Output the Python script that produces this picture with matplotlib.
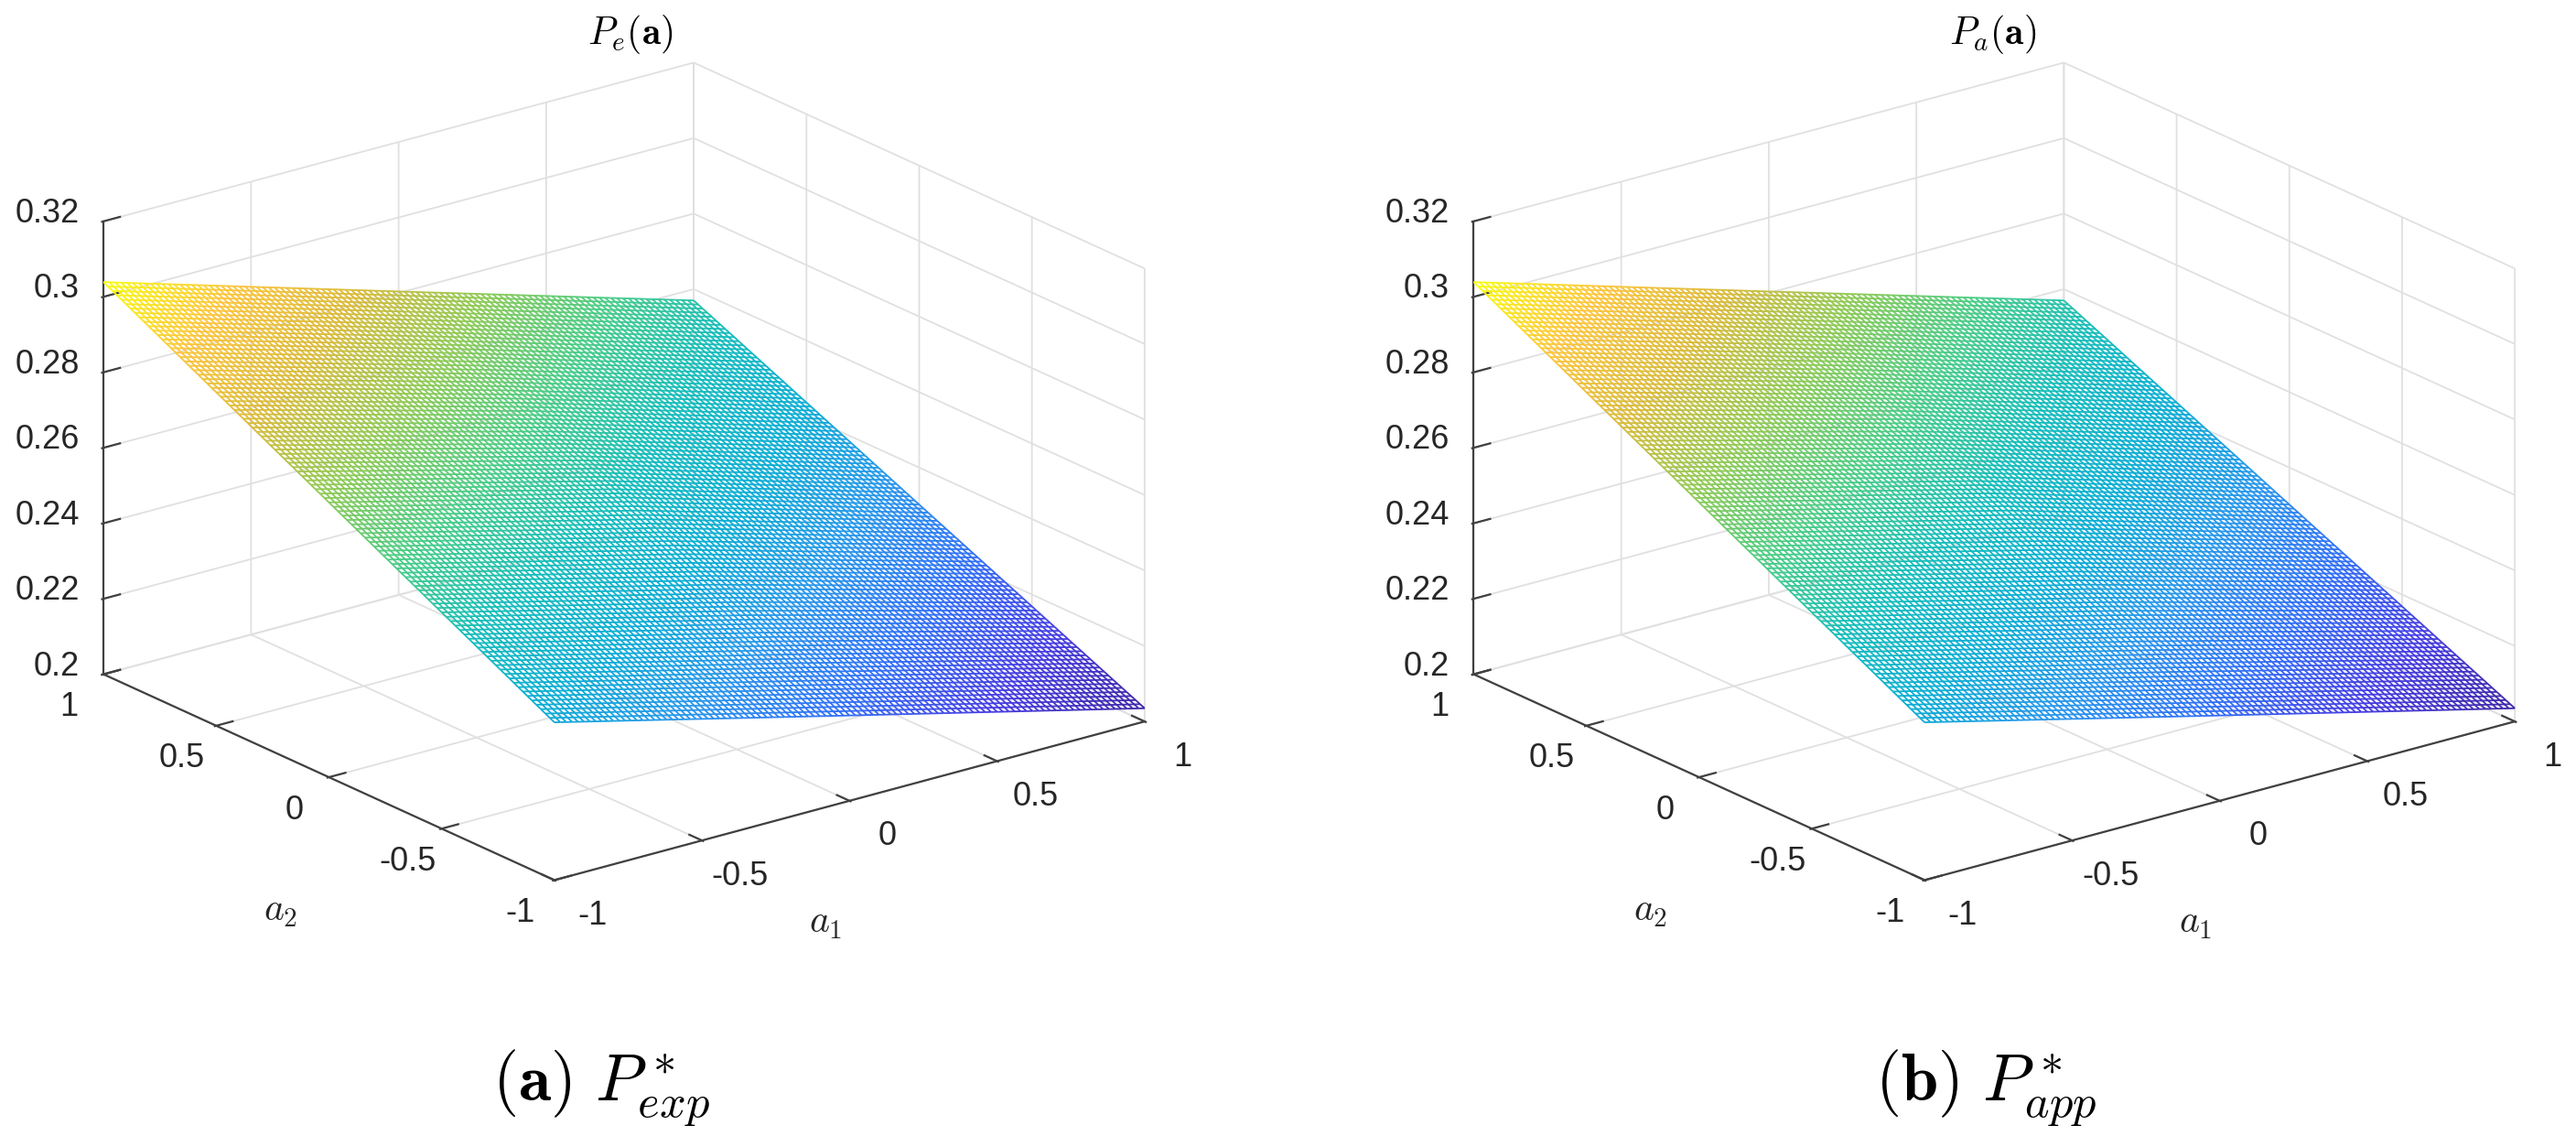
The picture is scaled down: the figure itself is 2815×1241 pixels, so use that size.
import numpy as np
import matplotlib
matplotlib.use('Agg')
import matplotlib.pyplot as plt
from matplotlib.colors import LinearSegmentedColormap
from mpl_toolkits.mplot3d import proj3d
from mpl_toolkits.mplot3d.art3d import Line3DCollection

plt.rcParams['font.family'] = ['Liberation Sans', 'DejaVu Sans']
plt.rcParams['mathtext.fontset'] = 'cm'

# heights at the corners and centre of each panel
a_read = [-1, 0, 1]
z_exp = [[0.2418, 0.2728, 0.3039],
         [0.2226, 0.2531, 0.2804],
         [0.2035, 0.2302, 0.2570]]
z_app = [[0.2418, 0.2728, 0.3039],
         [0.2226, 0.2531, 0.2804],
         [0.2035, 0.2302, 0.2570]]

z_ticks = [0.2, 0.22, 0.24, 0.26, 0.28, 0.3, 0.32]
z_labels = ['0.2', '0.22', '0.24', '0.26', '0.28', '0.3', '0.32']
a_ticks = [-1, -0.5, 0, 0.5, 1]
a_labels = ['-1', '-0.5', '0', '0.5', '1']

parula = LinearSegmentedColormap.from_list('parula', [
    (0.242, 0.150, 0.660), (0.277, 0.241, 0.890), (0.190, 0.440, 0.970),
    (0.154, 0.590, 0.922), (0.040, 0.680, 0.830), (0.080, 0.740, 0.730),
    (0.280, 0.800, 0.530), (0.550, 0.790, 0.330), (0.850, 0.730, 0.220),
    (0.990, 0.770, 0.230), (0.976, 0.983, 0.054)])


def refine(table, n=101):
    # only the table above is read from the picture; the wire mesh has too
    # many nodes to read, so its nodes are filled in between the table values
    t = np.array(table)
    g = np.linspace(-1, 1, n)
    by_a2 = np.array([np.interp(g, a_read, row) for row in t])
    return g, np.array([np.interp(g, a_read, col) for col in by_a2.T]).T


def label_at(ax, x, y, z, s, dx, dy, size=26, ha='center'):
    # figure text at the projected 3d point, then shifted by dx, dy points
    px, py, _ = proj3d.proj_transform(x, y, z, ax.get_proj())
    fx, fy = fig.transFigure.inverted().transform(ax.transData.transform((px, py)))
    fig.text(fx + dx * 100 / 72 / 2815, fy + dy * 100 / 72 / 1241, s, fontsize=size,
             ha=ha, va='center', color='#262626')


def panel(target, table):
    ax = fig.add_axes(target, projection='3d', proj_type='ortho')
    ax.view_init(elev=20.5, azim=-127.5)
    ax.set_box_aspect((454, 452, 295), zoom=1.04)
    g, z = refine(table)
    segs, vals = [], []
    for i in range(len(g)):
        for j in range(len(g)):
            if j < len(g) - 1:
                segs.append([(g[i], g[j], z[i, j]), (g[i], g[j + 1], z[i, j + 1])])
                vals.append((z[i, j] + z[i, j + 1]) / 2)
            if i < len(g) - 1:
                segs.append([(g[i], g[j], z[i, j]), (g[i + 1], g[j], z[i + 1, j])])
                vals.append((z[i, j] + z[i + 1, j]) / 2)
    vals = np.array(vals)
    colors = parula((vals - vals.min()) / (vals.max() - vals.min()))
    ax.add_collection3d(Line3DCollection(segs, colors=colors, linewidths=1.3))
    ax.set_xlim(-1, 1)
    ax.set_ylim(-1, 1)
    ax.set_zlim(0.2, 0.32)
    ax.set_xticks(a_ticks)
    ax.set_yticks(a_ticks)
    ax.set_zticks(z_ticks)
    for axis in (ax.xaxis, ax.yaxis, ax.zaxis):
        axis.set_pane_color((1, 1, 1, 1))
        axis.pane.set_edgecolor('white')
        axis.line.set_color('#404040')
        axis.line.set_linewidth(1.6)
        axis._axinfo['grid'].update(color='#e0e0e0', linewidth=1.3)
        axis._axinfo['tick'].update(inward_factor=0.03, outward_factor=0.35, linewidth={True: 1.6, False: 1.0})
        axis._axinfo['tick']['color'] = '#404040'
        axis.set_tick_params(label1On=False, color='#404040', width=1.6)
    return ax


fig = plt.figure(figsize=(28.15, 12.41), dpi=100)
axes = [panel([-0.0134, 0.0972, 0.5, 0.95], z_exp),
        panel([0.5185, 0.0972, 0.5, 0.95], z_app)]
fig.canvas.draw()

# mplot3d's own tick labels can't be offset freely, so they are placed from the projection
for ax in axes:
    for v, s in zip(a_ticks, a_labels):
        label_at(ax, v, -1, 0.2, s, 30, -28)
        label_at(ax, -1, v, 0.2, s, -27, -26)
    for v, s in zip(z_ticks, z_labels):
        label_at(ax, -1, 1, v, s, -19, 6, ha='right')
    label_at(ax, 0, -1, 0.2, '$a_1$', -19, -96, size=30)
    label_at(ax, -1, 0, 0.2, '$a_2$', -38, -105, size=30)

fig.text(0.2445, 0.970, r'$P_e(\mathbf{a})$', fontsize=30, ha='center', va='center')
fig.text(0.7737, 0.970, r'$P_a(\mathbf{a})$', fontsize=30, ha='center', va='center')
fig.text(0.2335, 0.0424, r'$(\mathbf{a})\ P^*_{exp}$', fontsize=52, ha='center', va='center')
fig.text(0.771, 0.0424, r'$(\mathbf{b})\ P^*_{app}$', fontsize=52, ha='center', va='center')
fig.savefig('out.png', dpi=100)
